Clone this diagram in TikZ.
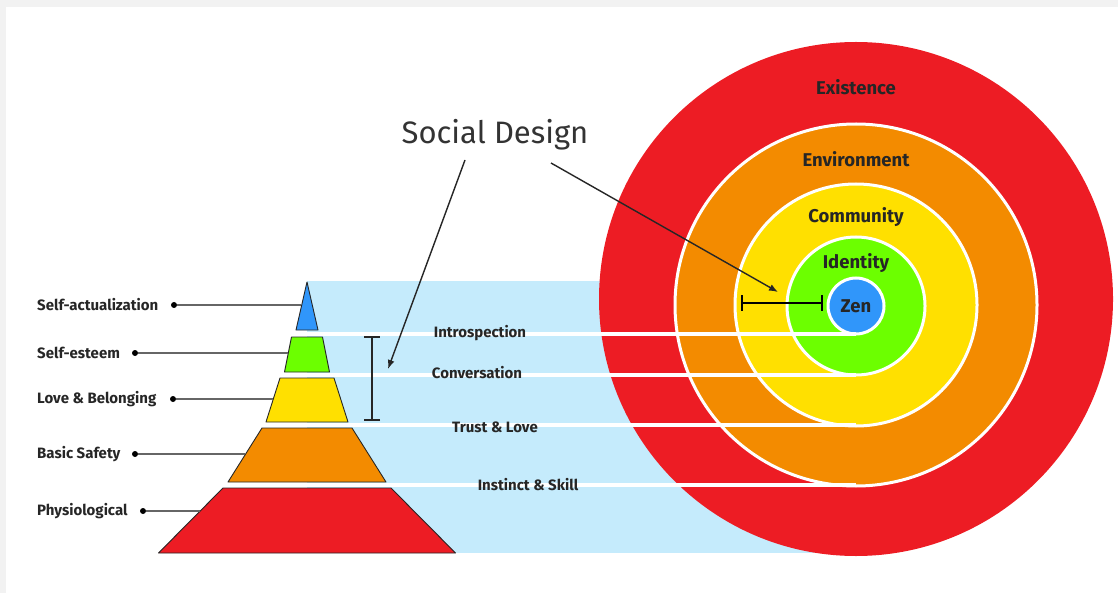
\documentclass[tikz,border=0pt]{standalone}
\usepackage{fontspec}
\setmainfont{Fira Sans}
\usepackage{xcolor}
\usepackage{tikz}
\usetikzlibrary{arrows.meta,positioning,calc}
\definecolor{ringred}{RGB}{237,28,36}
\definecolor{ringorange}{RGB}{243,139,0}
\definecolor{ringyellow}{RGB}{255,224,0}
\definecolor{ringgreen}{RGB}{108,255,0}
\definecolor{ringblue}{RGB}{48,150,250}
\definecolor{bandblue}{RGB}{197,235,252}
\definecolor{framegray}{RGB}{242,242,242}
\tikzset{
  ring/.style={circle,draw=white,line width=3pt,inner sep=0pt},   % concentric disc
  layer/.style={draw=black!85,line width=0.9pt,line join=round},   % pyramid slice
  need/.style={anchor=west,inner sep=0pt,text=black!85,
               font=\bfseries\fontsize{15}{17}\selectfont},
  lvl/.style={inner sep=1pt,text=black!85,font=\bfseries\fontsize{15}{17}\selectfont},
  zone/.style={inner sep=0pt,text=black!85,font=\bfseries\fontsize{18.5}{21}\selectfont},
  dot/.style={circle,fill=black,minimum size=6pt,inner sep=0pt},
  lead/.style={draw=black!60,line width=1.2pt},
  gap/.style={draw=white,line width=4pt},
  ar/.style={-{Latex[length=9pt,width=7pt]},line width=1.4pt,black!85},
  span/.style={{Bar[width=16pt]}-{Bar[width=16pt]},line width=2pt,black!85}
}

\begin{document}
\begin{tikzpicture}[x=1pt,y=-1pt]
  \useasboundingbox (0,0) rectangle (1118,593);
  \fill[framegray] (0,0) rectangle (1118,593);
  \fill[white] (6,7) rectangle (1118,593);

  % band behind the pyramid
  \fill[bandblue] (307,281) rectangle (856,553);

  % pyramid
  \filldraw[layer,fill=ringblue]   (307,282) -- (318,330) -- (296,330) -- cycle;
  \filldraw[layer,fill=ringgreen]  (291.5,337) -- (322.5,337) -- (329.5,372) -- (284.5,372) -- cycle;
  \filldraw[layer,fill=ringyellow] (280,378) -- (334,378) -- (348,422) -- (266,422) -- cycle;
  \filldraw[layer,fill=ringorange] (262,428) -- (352,428) -- (386,482) -- (228,482) -- cycle;
  \filldraw[layer,fill=ringred]    (223,488) -- (391,488) -- (455.5,553) -- (158.5,553) -- cycle;

  % rings
  \node[ring,fill=ringred,draw=none,minimum size=514pt] (existring) at (856,299) {};
  \node[ring,fill=ringorange,minimum size=362pt] (envring) at (856,305) {};
  \node[ring,fill=ringyellow,minimum size=242pt] (comring) at (856,305) {};
  \node[ring,fill=ringgreen,minimum size=138pt] (idring) at (856,306) {};
  \node[ring,zone,fill=ringblue,minimum size=56pt] (zen) at (856,306) {Zen};

  % white strips, tangent to the rings
  \coordinate (g1) at (307,333.5);  \coordinate (h1) at (856,333.5);
  \coordinate (g2) at (307,374.5);  \coordinate (h2) at (856,374.5);
  \coordinate (g3) at (307,425);    \coordinate (h3) at (856,425);
  \coordinate (g4) at (307,485);    \coordinate (h4) at (856,485);
  \foreach \i in {1,...,4} \draw[gap] (g\i) -- (h\i);

  \node[zone] (existence) at (856,87)  {Existence};
  \node[zone] (environment) at (856,159) {Environment};
  \node[zone] (community) at (856,217) {Community};
  \node[zone] (identity) at (856,263) {Identity};

  \node[lvl] (introspection) at (480,333) {Introspection};
  \node[lvl] (conversation) at (477,373) {Conversation};
  \node[lvl] (trust) at (495,427) {Trust \& Love};
  \node[lvl] (instinct) at (528,485) {Instinct \& Skill};

  % needs on the left
  \node[need] (selfact) at (37,305) {Self-actualization};
  \node[need] (esteem) at (37,353) {Self-esteem};
  \node[need] (love) at (37,399) {Love \& Belonging};
  \node[need] (safety) at (37,454) {Basic Safety};
  \node[need] (physio) at (37,511) {Physiological};
  \node[dot] (d1) at (174,305) {};
  \node[dot] (d2) at (135,353) {};
  \node[dot] (d3) at (173,399) {};
  \node[dot] (d4) at (135,454) {};
  \node[dot] (d5) at (143,511) {};
  \coordinate (t1) at (301,305);
  \coordinate (t2) at (288,353);
  \coordinate (t3) at (273,399);
  \coordinate (t4) at (245,454);
  \coordinate (t5) at (200,511);
  \foreach \i in {1,...,5} \draw[lead] (d\i) -- (t\i);

  % title and pointers
  \node[text=black!80,font=\fontsize{31}{34}\selectfont] (social) at (495,135) {Social Design};
  \coordinate (s1) at (465,160);
  \coordinate (s2) at (551,163);
  \coordinate (convtip) at (388,369);
  \coordinate (ringtip) at (778,292);
  \draw[ar] (s1) -- (convtip);
  \draw[ar] (s2) -- (ringtip);

  \coordinate (b1) at (372,336);
  \coordinate (b2) at (372,421);
  \draw[span] (b1) -- (b2);
  \coordinate (c1) at (741,303);
  \coordinate (c2) at (823,303);
  \draw[span,black,line width=2.4pt] (c1) -- (c2);
\end{tikzpicture}
\end{document}
